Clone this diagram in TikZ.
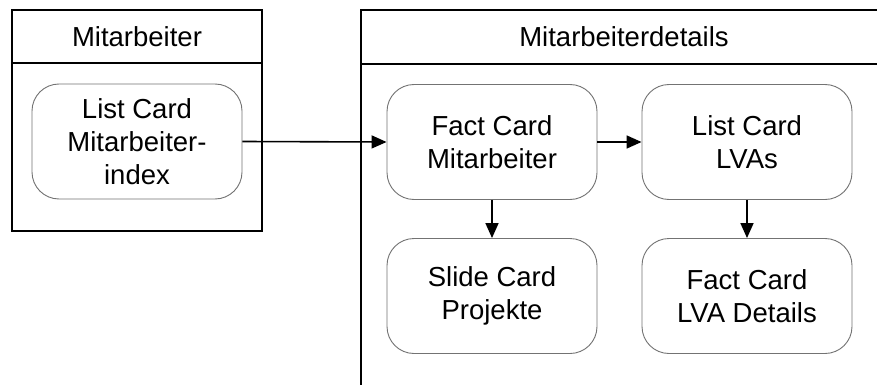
\documentclass[tikz,border=0pt]{standalone}
\usepackage{fontspec}
\setmainfont{Liberation Sans}
\usetikzlibrary{arrows.meta}
\begin{document}
\begin{tikzpicture}[x=1pt,y=-1pt,
  lane/.style={draw=black,line width=1.8pt},
  card/.style={draw=black!55,line width=0.9pt,rounded corners=27pt,
    minimum width=210pt,minimum height=115pt,align=center,
    font=\fontsize{27.5}{33}\selectfont},
  title/.style={font=\fontsize{27.5}{33}\selectfont},
  flow/.style={draw=black,line width=1.6pt,-{Triangle[length=15pt,width=13pt]}}]
\useasboundingbox (0,0) rectangle (877,385);
\fill[white] (0,0) rectangle (877,385);
% left swimlane
\draw[lane] (12,10) rectangle (262,231);
\draw[lane] (12,63) -- (262,63);
\node[title] (lhead) at (137,37) {Mitarbeiter};
% right swimlane (open to the right and bottom)
\draw[lane] (880,10) -- (361,10) -- (361,388);
\draw[lane] (361,64) -- (880,64);
\node[title] (rhead) at (624,37) {Mitarbeiterdetails};
% cards
\node[card] (idx) at (137,141.5) {List Card\\Mitarbeiter-\\index};
\node[card] (fm) at (492,142) {Fact Card\\Mitarbeiter};
\node[card] (lva) at (747,142) {List Card\\LVAs};
\node[card] (proj) at (492,296) {Slide Card\\Projekte};
\node[card] (lvad) at (747,296) {Fact Card\\LVA Details};
% connectors
\draw[flow] (idx.east) -- (fm.west);
\draw[flow] (fm.east) -- (lva.west);
\draw[flow] (fm.south) -- (proj.north);
\draw[flow] (lva.south) -- (lvad.north);
\end{tikzpicture}
\end{document}
